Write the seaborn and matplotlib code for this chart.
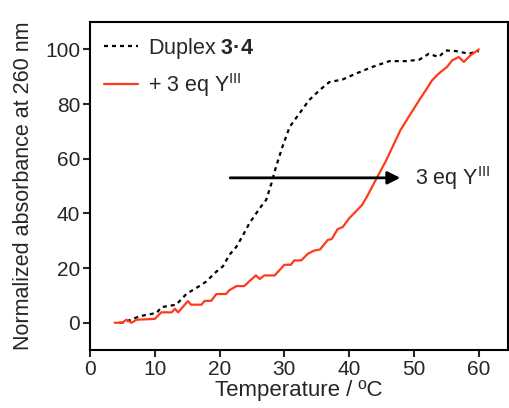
import pandas as pd
import matplotlib
matplotlib.use("Agg")
import matplotlib.pyplot as plt
import seaborn as sns

# melting curves
duplex_temp = [4.5, 5.1, 7.7, 10.3, 11.0, 13.3, 14.9, 16.4, 17.9, 19.5, 20.5, 21.5, 22.6,
               23.6, 24.6, 26.2, 27.2, 28.0, 28.7, 29.7, 30.8, 32.3, 33.8, 35.4, 36.9,
               39.0, 41.0, 43.6, 46.2, 48.7, 50.8, 52.3, 53.8, 54.9, 56.4, 58.5, 60.0]
duplex_abs = [0.0, 0.0, 2.4, 3.6, 5.7, 6.6, 10.6, 12.7, 15.0, 18.7, 20.6, 24.8, 27.8,
              32.0, 36.4, 41.9, 45.0, 51.0, 57.0, 64.4, 71.6, 76.5, 81.4, 85.0, 88.0,
              89.0, 91.1, 93.6, 95.7, 95.7, 96.2, 98.4, 97.2, 99.6, 99.4, 98.4, 99.4]

y3_temp = [3.8, 5.0, 5.6, 6.4, 7.2, 10.0, 11.0, 12.6, 13.1, 13.6, 15.1, 15.6, 17.2, 17.7,
           18.7, 19.5, 21.0, 21.5, 22.6, 23.8, 24.6, 25.6, 26.2, 26.9, 28.5, 30.0, 31.0,
           31.5, 32.6, 33.6, 34.6, 35.5, 36.7, 37.3, 38.2, 39.0, 40.0, 42.0, 42.8, 43.6,
           44.6, 45.6, 46.7, 47.9, 49.2, 50.8, 51.8, 52.8, 53.8, 55.1, 55.9, 56.9, 57.7,
           58.7, 60.0]
y3_abs = [0.0, 0.0, 1.1, 0.0, 1.1, 1.4, 3.8, 3.8, 5.1, 3.8, 7.9, 6.6, 6.6, 8.0,
          8.0, 10.5, 10.5, 11.9, 13.4, 13.4, 15.2, 17.3, 16.0, 17.3, 17.3, 21.2, 21.2,
          22.8, 22.8, 25.2, 26.4, 26.8, 30.3, 30.6, 34.2, 35.0, 38.2, 43.1, 46.4, 50.0,
          54.5, 58.9, 64.4, 70.4, 75.4, 81.4, 85.0, 88.7, 91.1, 93.6, 96.0, 97.2, 95.4,
          97.8, 100.0]

series_labels = ["Duplex $\\mathbf{3·4}$", "+ 3 eq Y$^{\\mathrm{III}}$"]

df = pd.concat([
    pd.DataFrame({"T": duplex_temp, "A": duplex_abs, "sample": series_labels[0]}),
    pd.DataFrame({"T": y3_temp, "A": y3_abs, "sample": series_labels[1]}),
])

sns.set_style("ticks")
plt.rcParams["font.family"] = ["Liberation Sans", "DejaVu Sans"]
plt.rcParams["mathtext.fontset"] = "custom"
plt.rcParams["mathtext.rm"] = "Liberation Sans"
plt.rcParams["mathtext.bf"] = "Liberation Sans:bold"

fig = plt.figure(figsize=(5.1, 4.08), dpi=100)
ax = fig.add_axes([0.1765, 0.142, 0.8195, 0.804])

sns.lineplot(data=df, x="T", y="A", hue="sample", style="sample",
             palette=["black", "#ff3a1c"], dashes=[(1.8, 1.8), ""],
             linewidth=1.6, ax=ax, sort=False)

ax.annotate("", xy=(48.3, 53), xytext=(21.2, 53),
            arrowprops=dict(arrowstyle="-|>,head_length=0.75,head_width=0.38",
                            color="black", lw=2))
ax.text(50.2, 53, "3 eq Y$^{\\mathrm{III}}$", fontsize=15.5, va="center")

ax.set_xlim(0, 64.5)
ax.set_ylim(-10, 110)
ax.set_xticks(range(0, 61, 10))
ax.set_yticks(range(0, 101, 20))
ax.tick_params(labelsize=15, width=1.5, length=5, direction="out", pad=2)
for s in ax.spines.values():
    s.set_linewidth(1.5)
    s.set_color("black")
ax.set_xlabel("Temperature / ºC", fontsize=16, labelpad=1)
ax.set_ylabel("Normalized absorbance at 260 nm", fontsize=15.5, labelpad=8)

ax.legend(loc="upper left", frameon=False, fontsize=15.5, handlelength=1.6,
          borderaxespad=0.3, borderpad=0.35, handletextpad=0.45, labelspacing=0.45)

plt.savefig("out.png", dpi=100)
